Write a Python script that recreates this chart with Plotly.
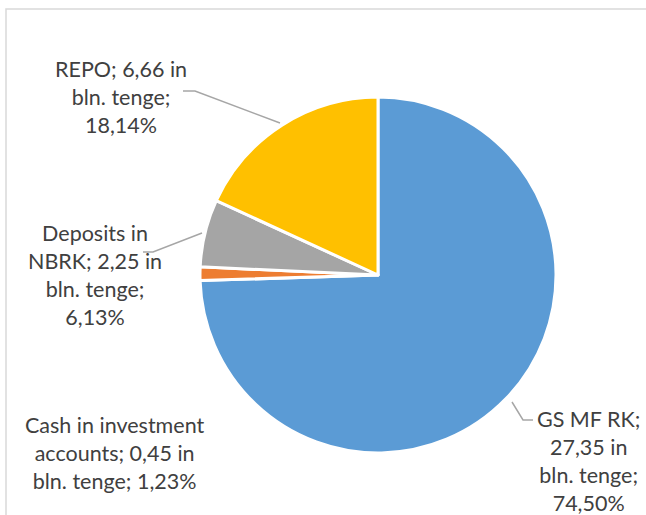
import plotly.graph_objects as go

W, H = 646, 515

categories = ["GS MF RK", "Cash in investment accounts", "Deposits in NBRK", "REPO"]
values = [27.35, 0.45, 2.25, 6.66]
percents = [74.50, 1.23, 6.13, 18.14]
colors = ["#5B9BD5", "#ED7D31", "#A5A5A5", "#FFC000"]

# label line layouts (text as in the reference)
label_lines = [
    ["GS MF RK;", "27,35 in", "bln. tenge;", "74,50%"],
    ["Cash in investment", "accounts; 0,45 in", "bln. tenge; 1,23%"],
    ["Deposits in", "NBRK; 2,25 in", "bln. tenge;", "6,13%"],
    ["REPO; 6,66 in", "bln. tenge;", "18,14%"],
]
# label block centres in pixels
label_pos = [(588, 461), (114, 453), (95, 275), (121, 97)]
# leader line polylines in pixels
leaders = [
    [(512, 402), (523, 420), (533, 420)],
    None,
    [(202, 233), (153, 252), (143, 252)],
    [(280, 123), (195, 91), (183, 91)],
]

def px(x, y):
    return x / W, 1 - y / H

cx, cy, r = 378, 275, 178

fig = go.Figure(go.Pie(
    labels=categories,
    values=values,
    sort=False,
    direction="clockwise",
    rotation=0,
    marker=dict(colors=colors, line=dict(color="white", width=3)),
    textinfo="none",
    hoverinfo="label+value+percent",
    domain=dict(x=[(cx - r) / W, (cx + r) / W], y=[1 - (cy + r) / H, 1 - (cy - r) / H]),
    showlegend=False,
))

font = dict(family="Lato, Open Sans, sans-serif", size=21.5, color="#404040")
for lines, (x, y) in zip(label_lines, label_pos):
    ax, ay = px(x, y)
    fig.add_annotation(x=ax, y=ay, xref="paper", yref="paper", text="<br>".join(lines),
                       showarrow=False, xanchor="center", yanchor="middle", align="center", font=font)

for pts in leaders:
    if not pts:
        continue
    path = ""
    for i, (x, y) in enumerate(pts):
        X, Y = px(x, y)
        path += ("M" if i == 0 else "L") + f"{X},{Y} "
    fig.add_shape(type="path", path=path.strip(), xref="paper", yref="paper",
                  line=dict(color="#A6A6A6", width=1.5))

# chart-area border
x0, y0 = px(6, 9)
x1, y1 = px(700, 560)
fig.add_shape(type="rect", x0=x0, y0=y1, x1=x1, y1=y0, xref="paper", yref="paper",
              line=dict(color="#D9D9D9", width=1.5), fillcolor="rgba(0,0,0,0)")

fig.update_layout(width=W, height=H, margin=dict(l=0, r=0, t=0, b=0),
                  paper_bgcolor="white", plot_bgcolor="white")
fig.write_html("out.html", config={"displayModeBar": False},
               post_script="document.body.style.margin='0';document.body.style.overflow='hidden';")
